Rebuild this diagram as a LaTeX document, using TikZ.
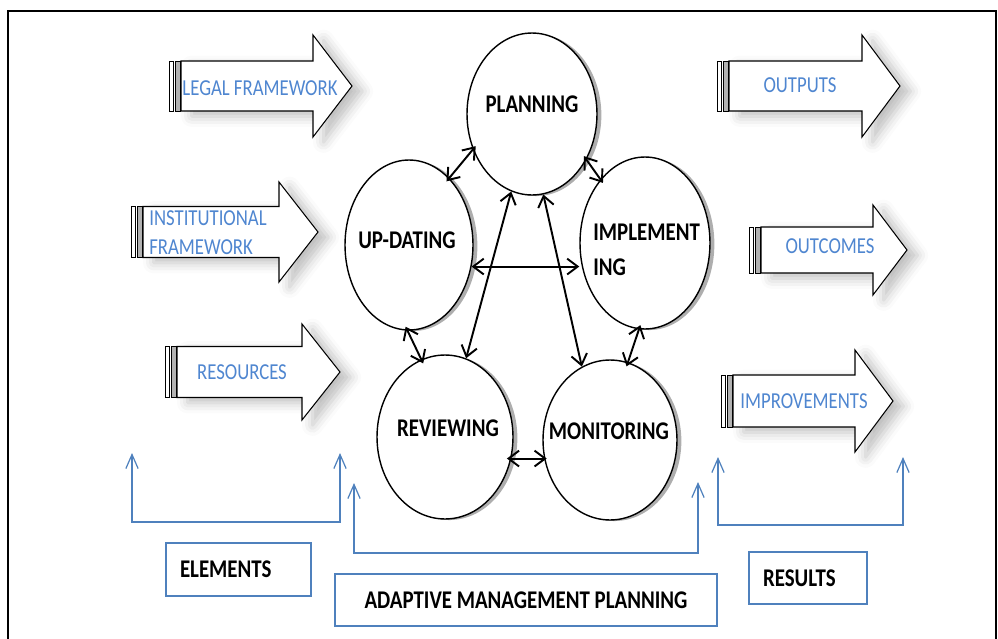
\documentclass[tikz,border=0pt]{standalone}
\usepackage{fontspec}
\setmainfont{Carlito}[FakeStretch=0.82]
\usetikzlibrary{arrows.meta,shapes.geometric,shadows,shadows.blur}
\definecolor{officeblue}{HTML}{4F81BD}
\definecolor{labelblue}{HTML}{4F86D0}
\newcommand{\LinkColor}{officeblue}
\newcommand{\LabelColor}{labelblue}
% striped block arrow: tail x, shoulder x, tip x, centre y, body half height, head half height
\newcommand{\StripedArrow}[6]{%
	\draw[arrowbody] (#1+12,#4-#5) -- (#2,#4-#5) -- (#2,#4-#6) -- (#3,#4) -- (#2,#4+#6) -- (#2,#4+#5) -- (#1+12,#4+#5) -- cycle;
	\draw[stripe] (#1,#4-#5) rectangle (#1+4,#4+#5);
	\draw[stripe, fill=black!30] (#1+6,#4-#5) rectangle (#1+11,#4+#5);
}

\begin{document}
\begin{tikzpicture}[
	% Define styles and settings
	x=0.02cm, y=-0.02cm,
	stage/.style={ellipse, draw, line width=0.8pt, fill=white, inner sep=0pt, drop shadow={shadow xshift=2.5pt, shadow yshift=-0.6pt, fill=black!45, opacity=0.7}},
	stagetext/.style={font=\fontsize{14.5}{20}\selectfont\bfseries, inner sep=0pt},
	flow/.style={{Straight Barb[length=6pt,width=9pt]}-{Straight Barb[length=6pt,width=9pt]}, line width=1.1pt},
	longer/.style={shorten <=-2.5pt, shorten >=-2.5pt},
	arrowbody/.style={draw, line width=0.6pt, fill=white, blur shadow={shadow xshift=6pt, shadow yshift=-3pt, shadow blur radius=6pt, shadow opacity=25}},
	stripe/.style={draw, line width=0.5pt, fill=white},
	bluetext/.style={text=\LabelColor, font=\fontsize{13}{16.5}\selectfont, inner sep=0pt},
	bracket/.style={draw=\LinkColor, line width=0.7pt, {Straight Barb[length=8pt,width=7pt]}-{Straight Barb[length=8pt,width=7pt]}},
	tag/.style={draw=\LinkColor, line width=0.9pt, font=\fontsize{14.5}{16}\selectfont\bfseries, inner xsep=0.28cm, inner ysep=0pt}
	]
	\useasboundingbox (0,0) rectangle (998,639);

	% frame
	\draw[line width=1.2pt] (8,639) -- (8,11) -- (996,11) -- (996,639);

	% elements
	\StripedArrow{169}{313}{352}{86}{25}{51}
	\draw (260,88) node[bluetext] (Legal) {LEGAL FRAMEWORK};
	\StripedArrow{131}{279}{318}{232}{25.5}{50}
	\draw (149,233) node[bluetext, anchor=west, align=left] (Institutional) {INSTITUTIONAL\\FRAMEWORK};
	\StripedArrow{165}{302}{340}{372}{25.5}{48}
	\draw (242,372) node[bluetext] (Resources) {RESOURCES};

	% results
	\StripedArrow{717}{862}{900}{86}{25}{51}
	\draw (800,85) node[bluetext] (Outputs) {OUTPUTS};
	\StripedArrow{749}{873}{907}{250}{23}{45}
	\draw (830,246) node[bluetext] (Outcomes) {OUTCOMES};
	\StripedArrow{721}{855}{893}{401}{26}{51}
	\draw (804,401) node[bluetext] (Improvements) {IMPROVEMENTS};

	% cycle
	\draw (532,114) node[stage, minimum width=2.6cm, minimum height=3.24cm] (Planning) {};
	\draw (409,245) node[stage, minimum width=2.56cm, minimum height=3.4cm] (UpDating) {};
	\draw (645,243) node[stage, minimum width=2.6cm, minimum height=3.44cm] (Implementing) {};
	\draw (445,437) node[stage, minimum width=2.72cm, minimum height=3.28cm] (Reviewing) {};
	\draw (610,440) node[stage, minimum width=2.68cm, minimum height=3.2cm] (Monitoring) {};

	\draw (532,104) node[stagetext] (PlanningText) {PLANNING};
	\draw (407,240) node[stagetext] (UpDatingText) {UP-DATING};
	\draw (593,250) node[stagetext, anchor=west, align=left] (ImplementingText) {IMPLEMENT\\ING};
	\draw (448,428) node[stagetext] (ReviewingText) {REVIEWING};
	\draw (609,431) node[stagetext] (MonitoringText) {MONITORING};

	\draw[flow, longer] (Planning.211) -- (UpDating.59);
	\draw[flow, longer] (Planning.320) -- (Implementing.125);
	\draw[flow] (UpDating.341) -- (UpDating.341 -| Implementing.west);
	\draw[flow] (Planning.255) -- (Reviewing.75);
	\draw[flow] (Planning.278) -- (Monitoring.111);
	\draw[flow, longer] (UpDating.269) -- (Reviewing.107);
	\draw[flow, longer] (Implementing.266) -- (Monitoring.77);
	\draw[flow, longer] (Reviewing.342) -- (Reviewing.342 -| Monitoring.west);

	% brackets
	\coordinate (ElemLeft) at (132,453);
	\coordinate (ElemRight) at (340,453);
	\coordinate (CycleLeft) at (354,483);
	\coordinate (CycleRight) at (698,482);
	\coordinate (ResLeft) at (718,457);
	\coordinate (ResRight) at (903,457);
	\draw[bracket] (ElemLeft) -- ++(0,69) -| (ElemRight);
	\draw[bracket] (CycleLeft) -- ++(0,70) -| (CycleRight);
	\draw[bracket] (ResLeft) -- ++(0,68) -| (ResRight);

	\draw (238.5,569.5) node[tag, minimum width=2.9cm, minimum height=1.06cm, text width=2.34cm, align=left] (Elements) {ELEMENTS};
	\draw (526,600) node[tag, minimum width=7.64cm, minimum height=1.04cm, align=center] (Adaptive) {ADAPTIVE MANAGEMENT PLANNING};
	\draw (808,578) node[tag, minimum width=2.36cm, minimum height=1.04cm, text width=1.8cm, align=left] (Results) {RESULTS};

\end{tikzpicture}
\end{document}
